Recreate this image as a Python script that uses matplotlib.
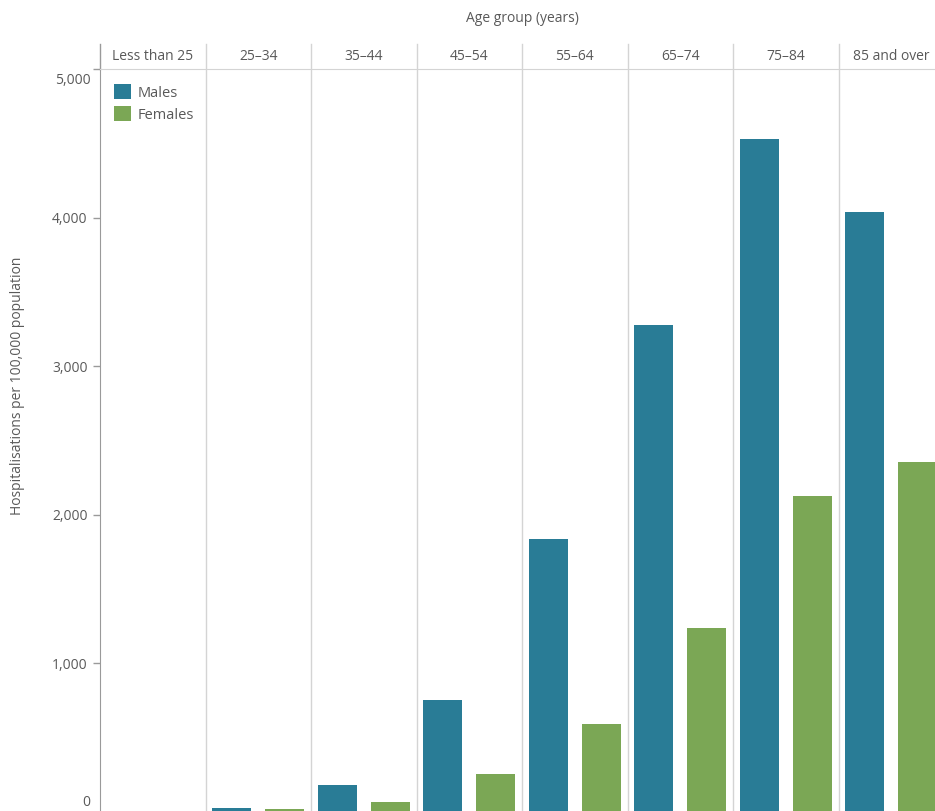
import numpy as np
import matplotlib.pyplot as plt
from matplotlib.transforms import offset_copy

# Hospitalisation rates by age group and sex
age_groups = ["Less than 25", "25\u201334", "35\u201344", "45\u201354", "55\u201364",
              "65\u201374", "75\u201384", "85 and over"]
males = [3, 25, 180, 755, 1835, 3275, 4530, 4035]
females = [2, 18, 65, 255, 590, 1240, 2128, 2352]
y_ticks = [0, 1000, 2000, 3000, 4000, 5000]

male_col = "#297C96"
female_col = "#7BA755"
text_col = "#595959"
sep_col = "#D4D4D4"

plt.rcParams['font.family'] = ['Open Sans', 'DejaVu Sans']

W, H = 935, 811
fig = plt.figure(figsize=(W / 100, H / 100), dpi=100)

# axes run past the right and bottom edge, like the cropped original
left, top, zero_y, panel_w = 100, 69, 812, 105.5
ax = fig.add_axes([left / W, (H - zero_y) / H,
                   panel_w * len(age_groups) / W, (zero_y - top) / H])

x = np.arange(len(age_groups))
bw = 0.37
ax.bar(x - 0.25, males, width=bw, color=male_col, label="Males", zorder=3)
ax.bar(x + 0.25, females, width=bw, color=female_col, label="Females", zorder=3)

ax.set_xlim(-0.5, len(age_groups) - 0.5)
ax.set_ylim(0, 5000)

# panel separators, running up through the header row
head = (top - 44) / (zero_y - top)
for i in range(1, len(age_groups)):
    ax.plot([i - 0.5, i - 0.5], [0, 1 + head], color=sep_col, lw=1,
            transform=ax.get_xaxis_transform(), clip_on=False, zorder=1)
ax.plot([-0.5, -0.5], [1, 1 + head], color="#9A9A9A", lw=1,
        transform=ax.get_xaxis_transform(), clip_on=False)

for i, g in enumerate(age_groups):
    ax.text(i, 1 + head / 2, g, transform=ax.get_xaxis_transform(),
            ha="center", va="center", fontsize=10, color=text_col)

for s in ["right", "bottom"]:
    ax.spines[s].set_visible(False)
ax.spines["top"].set_color(sep_col)
ax.spines["left"].set_color("#9A9A9A")

ax.set_xticks([])
ax.set_yticks(y_ticks)
# end labels are nudged inwards, as in the original
ax.set_yticklabels(["" if v in (y_ticks[0], y_ticks[-1]) else f"{v:,}" for v in y_ticks])
ax.tick_params(axis="y", length=5, width=1, color="#9A9A9A", pad=4,
               labelsize=10, labelcolor=text_col)
ytr = ax.get_yaxis_transform()
ax.text(-0.011, y_ticks[-1], f"{y_ticks[-1]:,}", ha="right", va="center",
        fontsize=10, color=text_col,
        transform=offset_copy(ytr, fig=fig, y=-11, units="dots"))
ax.text(-0.011, y_ticks[0], f"{y_ticks[0]:,}", ha="right", va="center",
        fontsize=10, color=text_col,
        transform=offset_copy(ytr, fig=fig, y=10, units="dots"))

fig.text(left / W + panel_w * 4 / W, 1 - 18 / H, "Age group (years)",
         ha="center", va="center", fontsize=10, color=text_col)
fig.text(18 / W, 1 - 386 / H, "Hospitalisations per 100,000 population",
         rotation=90, ha="center", va="center", fontsize=10, color=text_col)

ax.legend(loc="upper left", bbox_to_anchor=(0.0, 0.998), frameon=False,
          handlelength=1.15, handleheight=1.15, handletextpad=0.45,
          labelspacing=0.4, fontsize=10.5, labelcolor=text_col,
          borderaxespad=0.55)

fig.savefig("out.png", dpi=100)
